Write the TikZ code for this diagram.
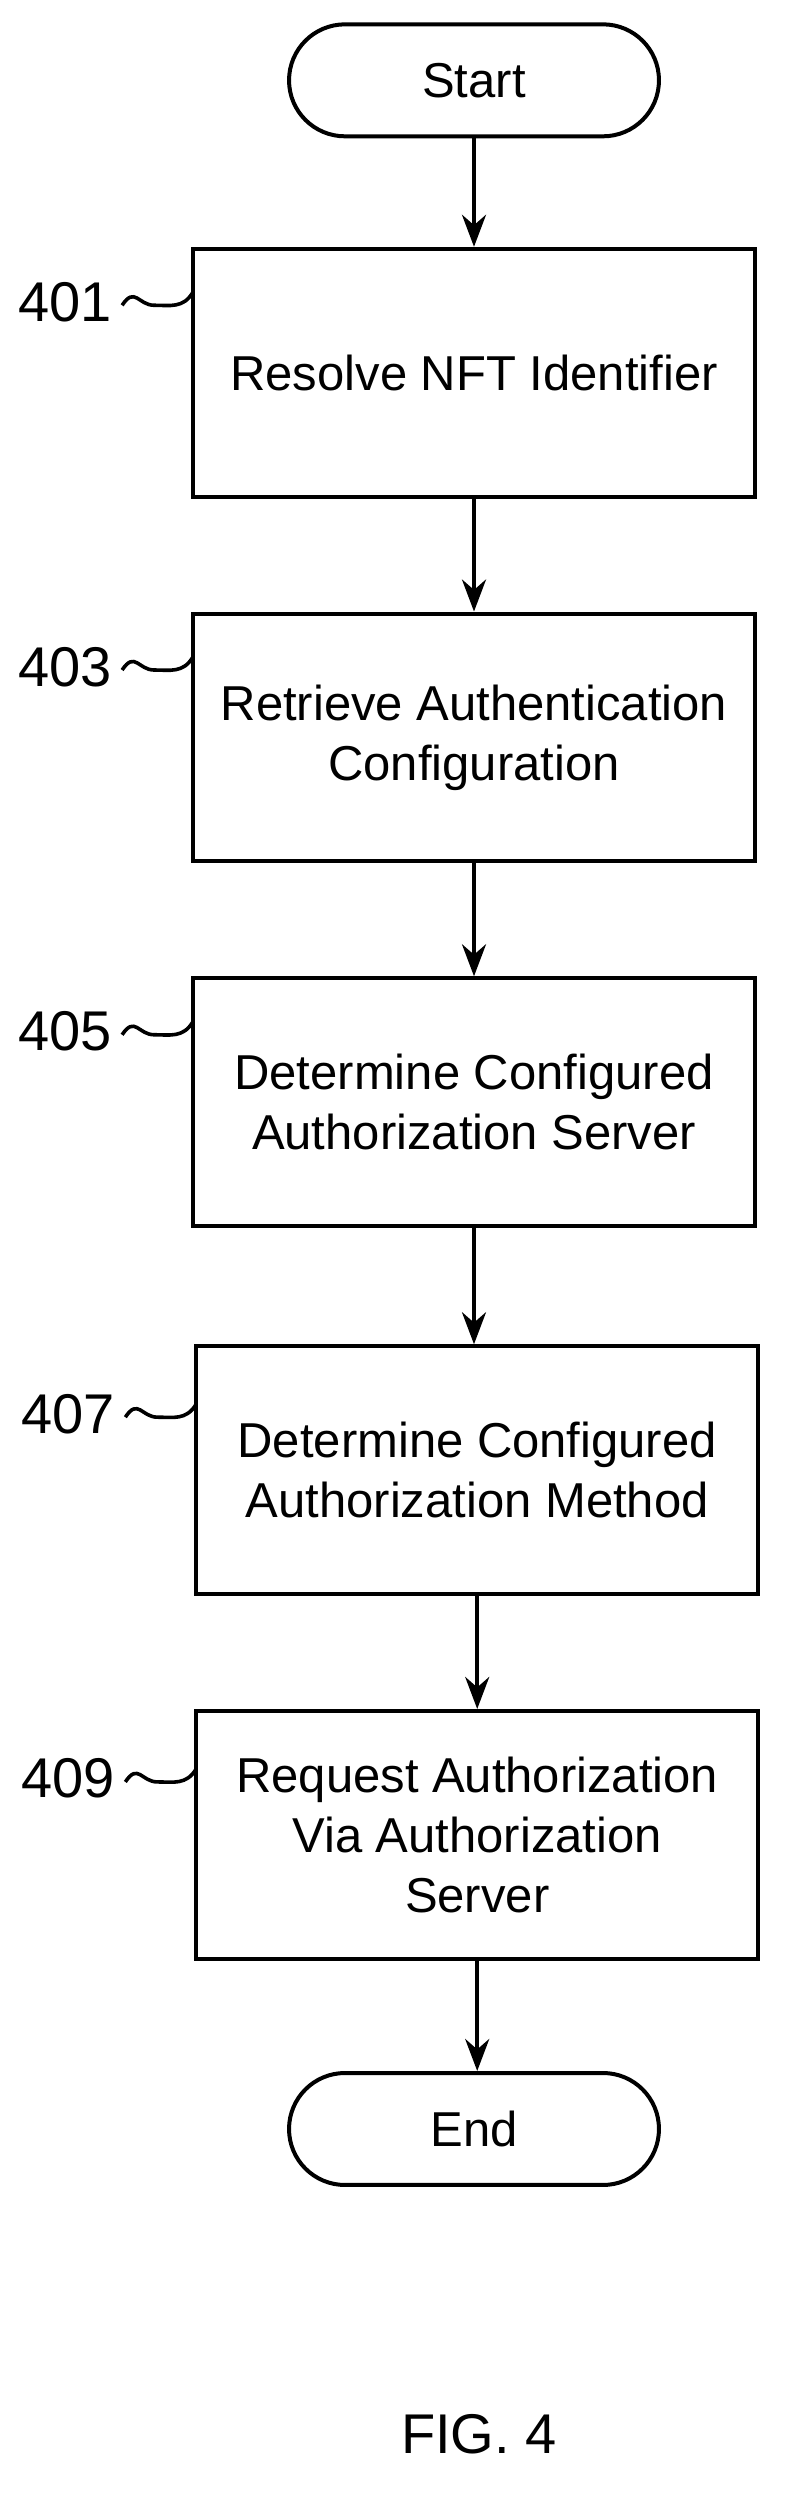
\documentclass[tikz,border=0pt]{standalone}
\usepackage{fontspec}
\setmainfont{Liberation Sans}
\usetikzlibrary{arrows.meta}
\begin{document}
\begin{tikzpicture}[x=0.8035pt,y=-0.8035pt,
  box/.style={draw,line width=2pt,minimum width=281pt,minimum height=124pt,align=center,font=\fontsize{24.5}{30}\selectfont},
  pill/.style={draw,line width=2pt,rounded corners=28pt,minimum width=185pt,minimum height=56pt,font=\fontsize{24.5}{28}\selectfont},
  lab/.style={font=\fontsize{28}{32}\selectfont,anchor=east},
  arr/.style={-{Stealth[length=16pt,width=12pt]},line width=2pt},
  sq/.style={line width=1.8pt}]
\useasboundingbox (0,0) rectangle (489,1564);
\node[pill] (start) at (295,50) {Start};
\node[box] (b1) at (295,232) {Resolve NFT Identifier};
\node[box] (b2) at (295,459) {Retrieve Authentication\\Configuration};
\node[box] (b3) at (295,686) {Determine Configured\\Authorization Server};
\node[box] (b4) at (297,915) {Determine Configured\\Authorization Method};
\node[box] (b5) at (297,1142) {Request Authorization\\Via Authorization\\Server};
\node[pill] (end) at (295,1325) {End};
\draw[arr] (start) -- (start|-b1.north);
\draw[arr] (b1) -- (b1|-b2.north);
\draw[arr] (b2) -- (b2|-b3.north);
\draw[arr] (b3.south) -- (b3.south|-b4.north);
\draw[arr] (b4) -- (b4|-b5.north);
\draw[arr] (b5.south) -- (b5.south|-end.north);
\foreach \n/\t/\yy/\xx in {1/401/188/120,2/403/415/120,3/405/642/120,4/407/880/122,5/409/1107/122}{
  \node[lab] (l\n) at (\xx-46,\yy) {\t};
  \draw[sq] (l\n.east) ++(2,2) .. controls +(8,-12) and +(-10,0) .. ++(20,0) .. controls +(10,0) and +(-6,10) .. (\xx,\yy-6);
}
\node[font=\fontsize{28}{32}\selectfont] (fig) at (298,1515) {FIG. 4};
\end{tikzpicture}
\end{document}
